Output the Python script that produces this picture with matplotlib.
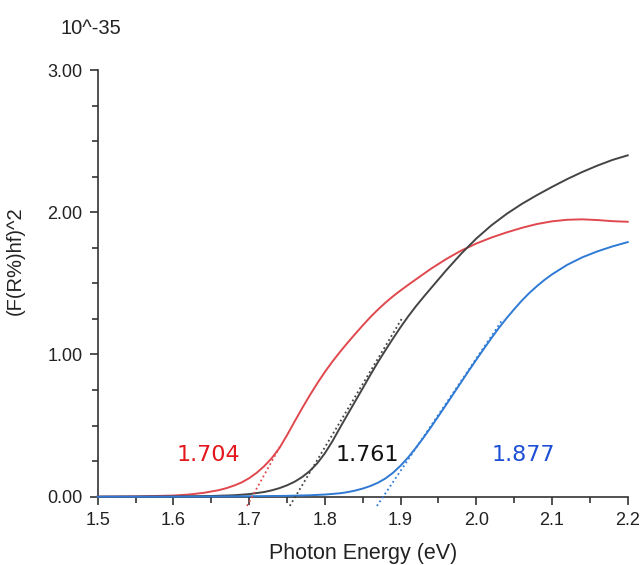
import matplotlib
matplotlib.use("Agg")
import matplotlib.pyplot as plt
from matplotlib.ticker import MultipleLocator, FormatStrFormatter

plt.rcParams['font.family'] = ['Liberation Sans', 'DejaVu Sans']

# Tauc-type curves, (F(R%)hf)^2 in units of 1e-35
energy_red = [1.50, 1.55, 1.60, 1.62, 1.64, 1.66, 1.67, 1.68, 1.69, 1.70, 1.71, 1.72,
              1.73, 1.74, 1.75, 1.76, 1.77, 1.78, 1.79, 1.80, 1.81, 1.82, 1.83, 1.84,
              1.85, 1.86, 1.87, 1.88, 1.89, 1.90, 1.91, 1.92, 1.94, 1.96, 1.98, 2.00,
              2.02, 2.04, 2.06, 2.08, 2.10, 2.12, 2.14, 2.16, 2.18, 2.20]
signal_red = [0.000, 0.002, 0.008, 0.015, 0.027, 0.046, 0.060, 0.078, 0.100, 0.130, 0.168, 0.215,
              0.272, 0.342, 0.432, 0.528, 0.622, 0.712, 0.797, 0.877, 0.950, 1.018, 1.082, 1.144,
              1.204, 1.262, 1.315, 1.364, 1.409, 1.450, 1.489, 1.527, 1.602, 1.670, 1.730, 1.780,
              1.822, 1.858, 1.890, 1.917, 1.936, 1.947, 1.950, 1.945, 1.937, 1.933]

energy_black = [1.50, 1.60, 1.65, 1.68, 1.70, 1.72, 1.73, 1.74, 1.75, 1.76, 1.77, 1.78,
                1.79, 1.80, 1.81, 1.82, 1.83, 1.84, 1.85, 1.86, 1.87, 1.88, 1.89, 1.90,
                1.91, 1.92, 1.93, 1.94, 1.96, 1.98, 2.00, 2.02, 2.04, 2.06, 2.08, 2.10,
                2.12, 2.14, 2.16, 2.18, 2.20]
signal_black = [0.000, 0.002, 0.005, 0.010, 0.018, 0.033, 0.045, 0.060, 0.080, 0.105, 0.138, 0.180,
                0.235, 0.305, 0.390, 0.485, 0.578, 0.670, 0.762, 0.855, 0.945, 1.030, 1.112, 1.192,
                1.267, 1.337, 1.402, 1.465, 1.590, 1.708, 1.815, 1.908, 1.988, 2.058, 2.120, 2.178,
                2.233, 2.283, 2.328, 2.368, 2.400]

energy_blue = [1.50, 1.60, 1.70, 1.75, 1.78, 1.80, 1.82, 1.83, 1.84, 1.85, 1.86, 1.87,
               1.88, 1.89, 1.90, 1.91, 1.92, 1.93, 1.94, 1.95, 1.96, 1.97, 1.98, 1.99,
               2.00, 2.01, 2.02, 2.03, 2.04, 2.05, 2.06, 2.07, 2.08, 2.09, 2.10, 2.12,
               2.14, 2.16, 2.18, 2.20]
signal_blue = [0.000, 0.000, 0.003, 0.006, 0.010, 0.015, 0.024, 0.032, 0.043, 0.057, 0.075, 0.098,
               0.128, 0.168, 0.218, 0.276, 0.342, 0.413, 0.488, 0.566, 0.645, 0.725, 0.805, 0.885,
               0.963, 1.040, 1.115, 1.188, 1.255, 1.318, 1.378, 1.432, 1.480, 1.524, 1.563, 1.630,
               1.683, 1.725, 1.760, 1.790]

# band gaps from the linear extrapolation
gap_values = [1.704, 1.761, 1.877]
tangent_slopes = [9.6, 8.9, 7.9]
tangent_top = [0.36, 1.25, 1.25]
tangent_bottom = -0.065

curve_colors = ['#e0484e', '#444444', '#2f7ad4']
text_colors = ['#e3161c', '#111111', '#1c4ed6']
label_x = [1.6457, 1.856, 2.062]
label_y = 0.29

fig = plt.figure(figsize=(6.41, 5.65), dpi=100)
ax = fig.add_axes([0.1524, 0.1209, 0.8269, 0.7552])

curves = [(energy_red, signal_red), (energy_black, signal_black), (energy_blue, signal_blue)]
for (xs, ys), clr in zip(curves, curve_colors):
    ax.plot(xs, ys, color=clr, lw=1.4, solid_joinstyle='round', zorder=3, clip_on=False)

# dotted tangent lines down to the energy axis
for x0, s, top, clr in zip(gap_values, tangent_slopes, tangent_top, curve_colors):
    x_lo = x0 + tangent_bottom / s
    x_hi = x0 + top / s
    ax.plot([x_lo, x_hi], [tangent_bottom, top], color=clr, lw=1.3,
            linestyle=(0, (1, 1.6)), zorder=4, clip_on=False)

for x, g, clr in zip(label_x, gap_values, text_colors):
    ax.text(x, label_y, f"{g:.3f}", color=clr, fontsize=16, ha='center', va='center',
            family=['DejaVu Sans'])

ax.set_xlim(1.5, 2.2)
ax.set_ylim(0, 3.0)
ax.xaxis.set_major_locator(MultipleLocator(0.1))
ax.xaxis.set_minor_locator(MultipleLocator(0.05))
ax.yaxis.set_major_locator(MultipleLocator(1.0))
ax.yaxis.set_minor_locator(MultipleLocator(0.25))
ax.xaxis.set_major_formatter(FormatStrFormatter('%.1f'))
ax.yaxis.set_major_formatter(FormatStrFormatter('%.2f'))

for side in ['top', 'right']:
    ax.spines[side].set_visible(False)
for side in ['left', 'bottom']:
    ax.spines[side].set_color('#333333')
    ax.spines[side].set_linewidth(1.2)

ax.tick_params(which='major', direction='out', length=6, width=1.2, color='#333333',
               labelsize=13, labelcolor='#222222', pad=5)
ax.tick_params(which='minor', direction='out', length=4, width=1.2, color='#333333')

ax.set_xlabel("Photon Energy (eV)", fontsize=15.5, color='#222222', labelpad=10)
ax.set_ylabel("(F(R%)hf)^2", fontsize=14.5, color='#222222')
ax.yaxis.set_label_coords(-0.137, 0.552)

fig.text(60 / 641, 1 - 28 / 565, "10^-35", fontsize=14.5, color='#222222',
         ha='left', va='center')

fig.savefig("out.png", dpi=100)
